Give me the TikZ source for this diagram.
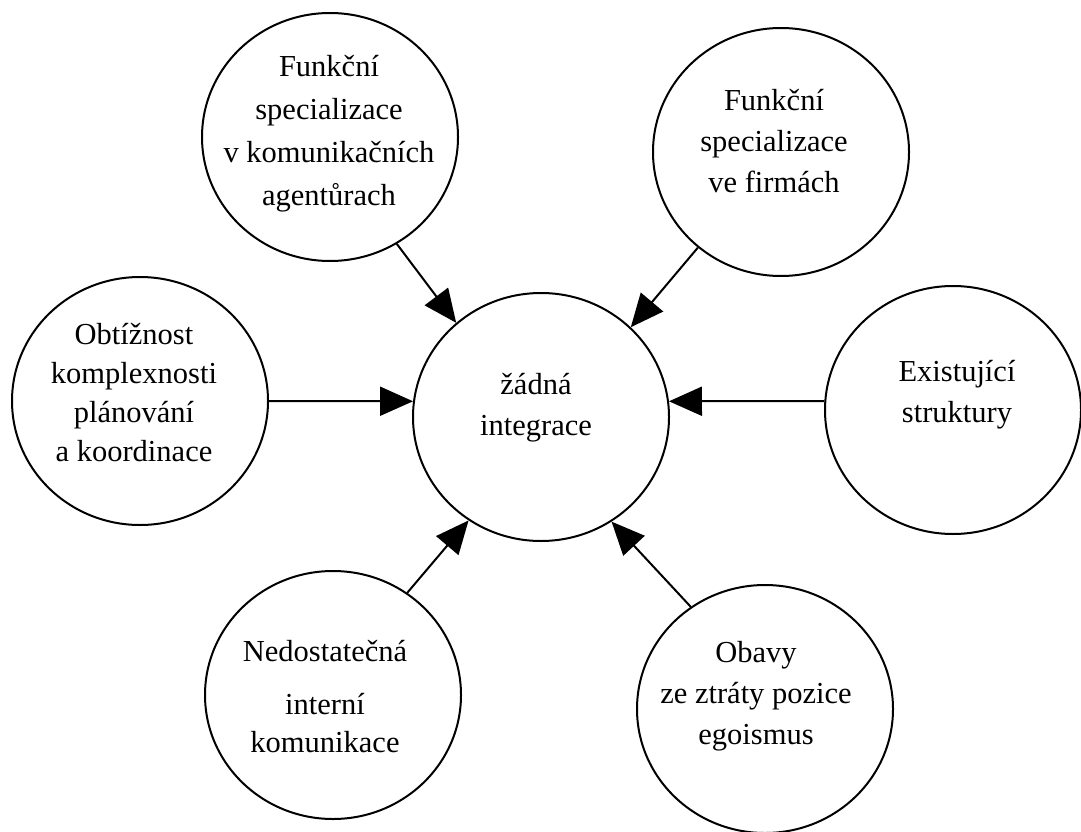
\documentclass[tikz,border=0pt]{standalone}
\usepackage{fontspec}
\setmainfont{Liberation Serif}
\usetikzlibrary{
  shapes.geometric,
  arrows.meta
}

\begin{document}
\begin{tikzpicture}[
  x=1pt, y=-1pt,
  >={Triangle[length=33pt,width=29pt]},
  line width=2pt,
  bubble/.style={draw, ellipse, minimum width=256pt, minimum height=248pt, inner sep=0pt},
  words/.style={align=center, inner sep=0pt, font=\fontsize{30.5}{41}\selectfont},
]
\useasboundingbox (0,0) rectangle (1081,832);

\node[bubble] (integrace) at (541,417) {};
\node[bubble] (agentury) at (330,137) {};
\node[bubble] (firmy) at (781,152) {};
\node[bubble] (planovani) at (140,401) {};
\node[bubble] (struktury) at (953,410) {};
\node[bubble] (komunikace) at (333,695) {};
\node[bubble] (obavy) at (765,709) {};

\node[words] (integrace-txt) at (536,408) {žádná\\integrace};
\node[words] (agentury-txt) at (329,134) {Funkční\\[2pt]specializace\\[2pt]v komunikačních\\[2pt]agentůrach};
\node[words] (firmy-txt) at (774,141) {Funkční\\specializace\\ve firmách};
\node[words, font=\fontsize{30.5}{39}\selectfont] (planovani-txt) at (134,393) {Obtížnost\\komplexnosti\\plánování\\a koordinace};
\node[words] (struktury-txt) at (957,395) {Existující\\struktury};
\node[words, font=\fontsize{30.5}{38}\selectfont] (komunikace-txt) at (325,697) {Nedostatečná\\[15pt]interní\\komunikace};
\node[words] (obavy-txt) at (756,696) {Obavy\\ze ztráty pozice\\egoismus};

\draw[->] (agentury.-58) -- (integrace.132);
\draw[->] (firmy.229) -- (integrace.45);
\draw[->] (planovani.east) -- (integrace.173);
\draw[->] (struktury.176) -- (integrace.7);
\draw[->] (komunikace.54) -- (integrace.235);
\draw[->] (obavy.126) -- (integrace.304);
\end{tikzpicture}
\end{document}
